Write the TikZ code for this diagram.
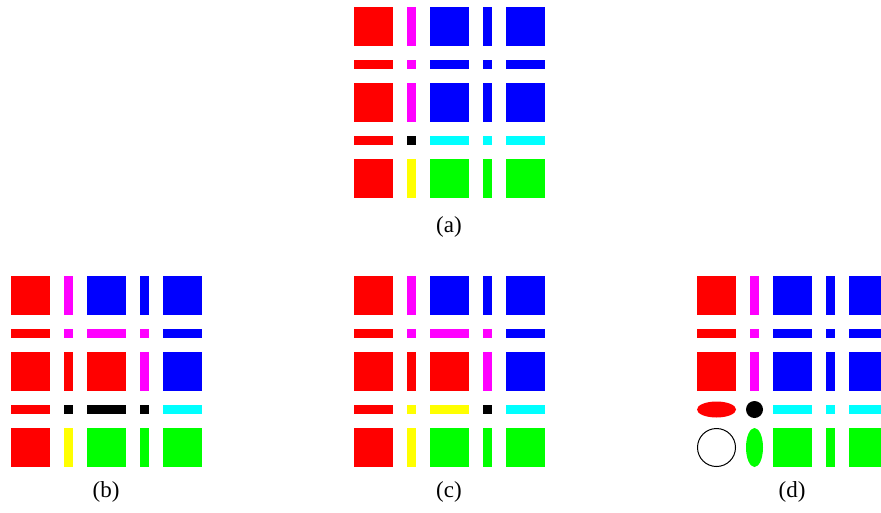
\documentclass[tikz,border=0pt]{standalone}
\usepackage{fontspec}
\setmainfont{Liberation Serif}
\definecolor{pr}{RGB}{255,0,0}
\definecolor{pm}{RGB}{255,0,255}
\definecolor{pb}{RGB}{0,0,255}
\definecolor{pc}{RGB}{0,255,255}
\definecolor{pk}{RGB}{0,0,0}
\definecolor{py}{RGB}{255,255,0}
\definecolor{pg}{RGB}{0,255,0}
\newcommand\panelrow[4]{%
  \foreach \c [count=\i] in {#4} {%
    \pgfmathsetmacro\xo{{0,53,76,129,152}[\i-1]}%
    \pgfmathsetmacro\wd{{39,9,39,9,39}[\i-1]}%
    \fill[\c] (#1+\xo,#2) rectangle ++(\wd,#3);
  }%
}
\newcommand\panelgrid[7]{% x0, y0, five rows
  \panelrow{#1}{#2}{39}{#3}
  \panelrow{#1}{#2+53}{9}{#4}
  \panelrow{#1}{#2+76}{39}{#5}
  \panelrow{#1}{#2+129}{9}{#6}
  \panelrow{#1}{#2+152}{39}{#7}
}
\tikzset{caption/.style={font=\fontsize{23}{27}\selectfont, inner sep=0pt}}
\begin{document}
\begin{tikzpicture}[x=1pt,y=-1pt]
\clip (0,0) rectangle (881,512);
\fill[white] (0,0) rectangle (881,512);
% (a)
\panelgrid{354}{7}{pr,pm,pb,pb,pb}{pr,pm,pb,pb,pb}{pr,pm,pb,pb,pb}{pr,pk,pc,pc,pc}{pr,py,pg,pg,pg}
\node[caption] (la) at (449,227) {(a)};
% (b)
\panelgrid{11}{276}{pr,pm,pb,pb,pb}{pr,pm,pm,pm,pb}{pr,pr,pr,pm,pb}{pr,pk,pk,pk,pc}{pr,py,pg,pg,pg}
\node[caption] (lb) at (106,492) {(b)};
% (c)
\panelgrid{354}{276}{pr,pm,pb,pb,pb}{pr,pm,pm,pm,pb}{pr,pr,pr,pm,pb}{pr,py,py,pk,pc}{pr,py,pg,pg,pg}
\node[caption] (lc) at (449,492) {(c)};
% (d)
\panelrow{697}{276}{39}{pr,pm,pb,pb,pb}
\panelrow{697}{329}{9}{pr,pm,pb,pb,pb}
\panelrow{697}{352}{39}{pr,pm,pb,pb,pb}
\panelrow{773}{405}{9}{pc,pc,pc}
\panelrow{773}{428}{39}{pg,pg,pg}
\fill[pr] (716.5,409.5) ellipse [x radius=19.5, y radius=8];
\fill[pk] (754.5,409.5) circle [radius=8.5];
\draw[pk, line width=1pt] (716.5,447.5) circle [radius=19];
\fill[pg] (754.5,447.5) ellipse [x radius=8.5, y radius=19.5];
\node[caption] (ld) at (792,492) {(d)};
\end{tikzpicture}
\end{document}
